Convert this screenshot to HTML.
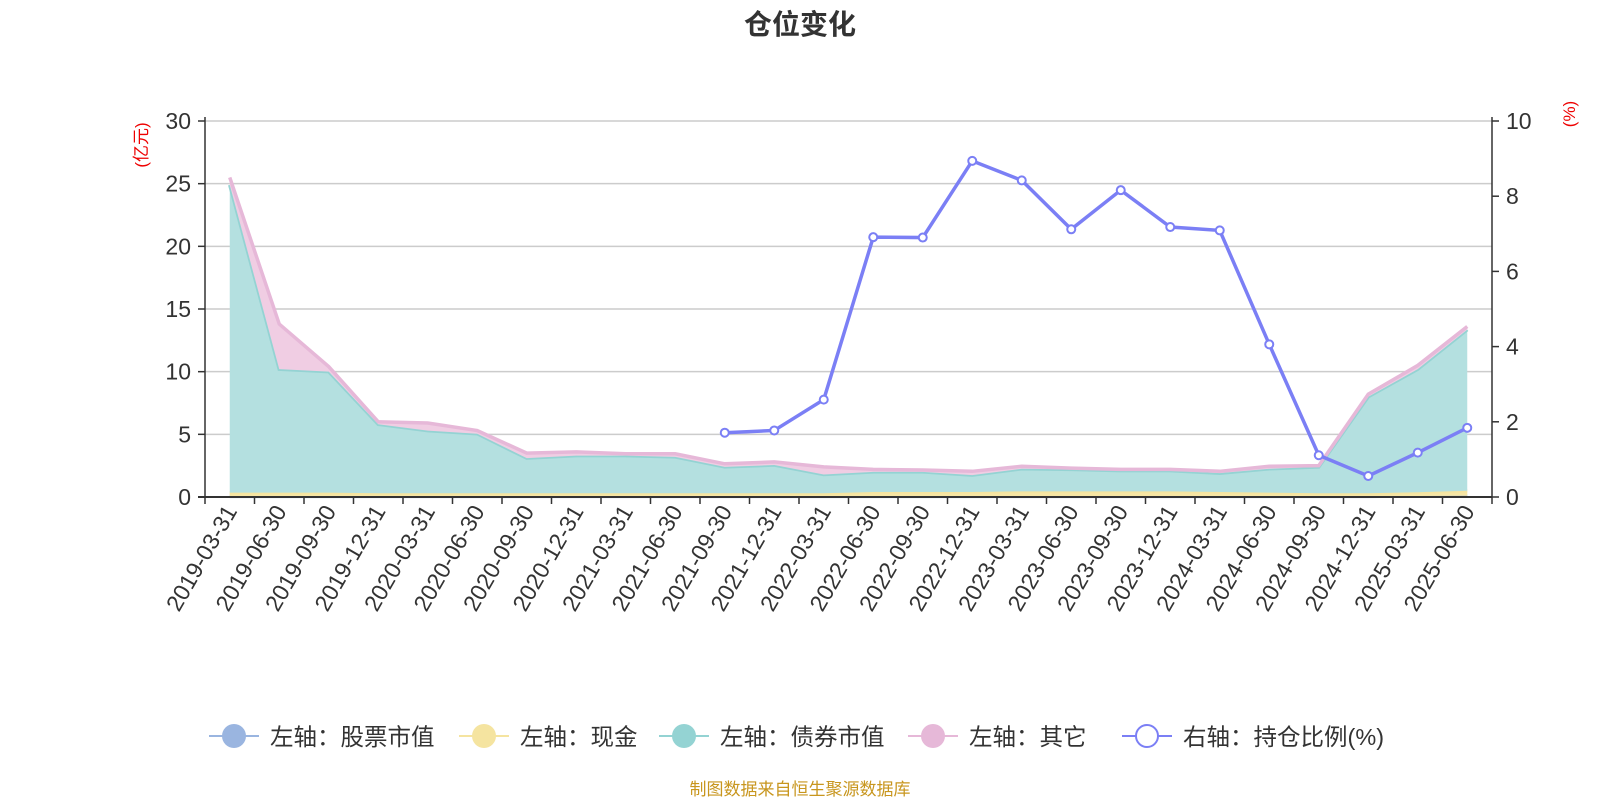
<!DOCTYPE html>
<html><head><meta charset="utf-8"><style>
html,body{margin:0;padding:0;background:#fff}
svg{display:block;font-family:"Liberation Sans","Noto Sans CJK SC",sans-serif}
</style></head><body>
<svg id="chart" width="1600" height="800" viewBox="0 0 1600 800" xmlns="http://www.w3.org/2000/svg">
<text x="800" y="34" text-anchor="middle" font-size="28" font-weight="bold" fill="#333">仓位变化</text>
<text transform="translate(147,145) rotate(-90)" text-anchor="middle" font-size="17" fill="#e00">(亿元)</text>
<text transform="translate(1575,114) rotate(-90)" text-anchor="middle" font-size="17" fill="#e00">(%)</text>
<g id="grid"></g><g id="areas"></g><g id="axes"></g><g id="ratio"></g>
<g id="legend"></g>
<text x="800" y="795" text-anchor="middle" font-size="17" fill="#c8961e">制图数据来自恒生聚源数据库</text>
</svg>
<script>
const categories=["2019-03-31","2019-06-30","2019-09-30","2019-12-31","2020-03-31","2020-06-30","2020-09-30","2020-12-31","2021-03-31","2021-06-30","2021-09-30","2021-12-31","2022-03-31","2022-06-30","2022-09-30","2022-12-31","2023-03-31","2023-06-30","2023-09-30","2023-12-31","2024-03-31","2024-06-30","2024-09-30","2024-12-31","2025-03-31","2025-06-30"];
const stockValues=[0.05,0.05,0.05,0.05,0.05,0.05,0.05,0.05,0.05,0.05,0.05,0.05,0.05,0.05,0.05,0.05,0.05,0.05,0.05,0.05,0.05,0.05,0.05,0.05,0.08,0.1];
const cashValues=[0.3,0.3,0.3,0.25,0.25,0.25,0.25,0.25,0.25,0.25,0.25,0.25,0.25,0.35,0.35,0.35,0.4,0.4,0.4,0.4,0.35,0.3,0.25,0.25,0.3,0.4];
const bondValues=[24.55,9.85,9.65,5.5,5.0,4.75,2.8,3.0,3.0,2.9,2.1,2.25,1.5,1.6,1.6,1.35,1.8,1.75,1.65,1.65,1.5,1.9,2.1,7.7,9.82,12.85];
const otherValues=[0.6,3.6,0.4,0.2,0.6,0.25,0.4,0.3,0.15,0.25,0.25,0.25,0.6,0.2,0.15,0.3,0.2,0.1,0.1,0.1,0.15,0.2,0.1,0.2,0.3,0.25];
const ratioValues=[null,null,null,null,null,null,null,null,null,null,1.71,1.77,2.59,6.91,6.9,8.94,8.42,7.12,8.16,7.18,7.09,4.06,1.11,0.56,1.18,1.84];
const leftTicks=[0,5,10,15,20,25,30];
const rightTicks=[0,2,4,6,8,10];
const NS="http://www.w3.org/2000/svg";
const L=205,R=1492,T=121,B=497,band=(R-L)/categories.length;
const xS=i=>L+band*(i+0.5);
const yL=v=>B-(v/30)*(B-T);
const yR=v=>B-(v/10)*(B-T);
function mk(tag,attrs,parent){const e=document.createElementNS(NS,tag);for(const k in attrs)e.setAttribute(k,attrs[k]);parent.appendChild(e);return e;}
const grid=document.getElementById('grid'),axes=document.getElementById('axes'),areas=document.getElementById('areas'),ratio=document.getElementById('ratio'),legend=document.getElementById('legend');
leftTicks.forEach(v=>{
 if(v>0){const g=mk('line',{x1:L,x2:R,y1:yL(v),y2:yL(v),stroke:'#ccc','stroke-width':1.5},grid);
 }
 mk('line',{x1:L-7,x2:L,y1:yL(v),y2:yL(v),stroke:'#333','stroke-width':1.5},axes);
 const tx=mk('text',{x:L-14,y:yL(v)+8,'text-anchor':'end','font-size':23,fill:'#333'},axes);tx.textContent=v;
 
});
rightTicks.forEach(v=>{
 mk('line',{x1:R,x2:R+7,y1:yR(v),y2:yR(v),stroke:'#333','stroke-width':1.5},axes);
 const tx=mk('text',{x:R+14,y:yR(v)+8,'text-anchor':'start','font-size':23,fill:'#333'},axes);tx.textContent=v;
 
});
const series=[[stockValues,'#9ab5e0','#9ab5e0','stock'],[cashValues,'#f7e6a4','#f5e4a0','cash'],[bondValues,'#b4e0e0','#94d3d3','bond'],[otherValues,'#f0cde3','#e6b8d8','other']];
let base=categories.map(()=>0);
series.forEach(([vals,fill,stroke,name])=>{
 const top=vals.map((v,i)=>base[i]+v);
 let d='M'+categories.map((c,i)=>xS(i)+','+yL(top[i])).join(' L');
 for(let i=categories.length-1;i>=0;i--)d+=' L'+xS(i)+','+yL(base[i]);
 const a=mk('path',{d:d+'Z',fill:fill,stroke:'none'},areas);
 
 const ln=mk('polyline',{points:categories.map((c,i)=>xS(i)+','+yL(top[i])).join(' '),fill:'none',stroke:stroke,'stroke-width':3.5},areas);
 
 base=top;
});
mk('line',{x1:L,x2:L,y1:T-4,y2:B,stroke:'#333','stroke-width':1.5},axes);
mk('line',{x1:R,x2:R,y1:T-4,y2:B,stroke:'#333','stroke-width':1.5},axes);
mk('line',{x1:L-7,x2:R,y1:B,y2:B,stroke:'#333','stroke-width':2},axes);
for(let i=0;i<=categories.length;i++)mk('line',{x1:L+band*i,x2:L+band*i,y1:B,y2:B+7,stroke:'#333','stroke-width':1.5},axes);
categories.forEach((c,i)=>{
 const t=mk('text',{transform:`translate(${xS(i)+8},${B+14}) rotate(-60)`,'text-anchor':'end','font-size':23,fill:'#333'},axes);
 t.textContent=c;
 
});
const pts=[];ratioValues.forEach((v,i)=>{if(v!==null)pts.push([xS(i),yR(v)]);});
const rl=mk('polyline',{points:pts.map(p=>p.join(',')).join(' '),fill:'none',stroke:'#7b7ff5','stroke-width':3.5},ratio);

pts.forEach(p=>{const c=mk('circle',{cx:p[0],cy:p[1],r:4,fill:'#fff',stroke:'#7b7ff5','stroke-width':2},ratio);
 });
const legItems=[['左轴：股票市值','#9ab5e0',false,209],['左轴：现金','#f5e4a0',false,459],['左轴：债券市值','#94d3d3',false,659],['左轴：其它','#e6b8d8',false,908],['右轴：持仓比例(%)','#7b7ff5',true,1122]];
legItems.forEach(([label,col,hollow,x])=>{
 const g=mk('g',{},legend);
 
 mk('line',{x1:x,x2:x+50,y1:736,y2:736,stroke:col,'stroke-width':2},g);
 if(hollow)mk('circle',{cx:x+25,cy:736,r:11,fill:'#fff',stroke:col,'stroke-width':2},g);
 else mk('circle',{cx:x+25,cy:736,r:12,fill:col},g);
 const t=mk('text',{x:x+61,y:745,'font-size':23.5,fill:'#333'},g);t.textContent=label;
});
</script>
</body></html>
